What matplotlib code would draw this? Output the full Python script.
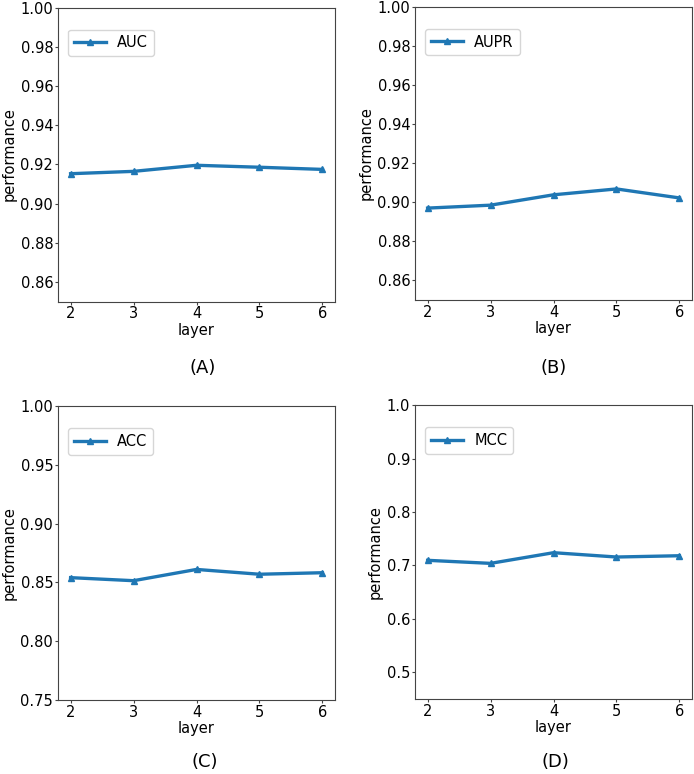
import matplotlib
matplotlib.use("Agg")
import matplotlib.pyplot as plt

layers = [2, 3, 4, 5, 6]
auc = [0.9152, 0.9164, 0.9195, 0.9185, 0.9174]
aupr = [0.8970, 0.8985, 0.9038, 0.9068, 0.9022]
acc = [0.8540, 0.8514, 0.8610, 0.8569, 0.8582]
mcc = [0.7094, 0.7037, 0.7237, 0.7156, 0.7180]

panels = [
    ("AUC", auc, (0.85, 1.00), [0.86, 0.88, 0.90, 0.92, 0.94, 0.96, 0.98, 1.00], "%.2f", "(A)"),
    ("AUPR", aupr, (0.85, 1.00), [0.86, 0.88, 0.90, 0.92, 0.94, 0.96, 0.98, 1.00], "%.2f", "(B)"),
    ("ACC", acc, (0.75, 1.00), [0.75, 0.80, 0.85, 0.90, 0.95, 1.00], "%.2f", "(C)"),
    ("MCC", mcc, (0.45, 1.00), [0.5, 0.6, 0.7, 0.8, 0.9, 1.0], "%.1f", "(D)"),
]

# axes rectangles in pixels: left, top, right, bottom
boxes = [(58, 7.5, 335, 301.5), (415, 6.7, 692, 300),
         (58, 406.3, 335, 699.7), (415, 405.3, 692, 698.7)]
label_pos = [(203, 368), (553.5, 368), (205, 762), (555, 762)]

W, H = 694, 774
fig = plt.figure(figsize=(W / 100, H / 100), dpi=100)

for (name, vals, ylim, yt, fmt, tag), (l, t, r, b), (lx, ly) in zip(panels, boxes, label_pos):
    ax = fig.add_axes([l / W, 1 - b / H, (r - l) / W, (b - t) / H])
    ax.plot(layers, vals, color="#1f77b4", lw=2.4, marker="^", ms=5, label=name)
    ax.set_ylim(*ylim)
    ax.set_yticks(yt)
    ax.set_yticklabels([fmt % v for v in yt])
    ax.set_xticks(layers)
    ax.tick_params(labelsize=10.5, length=2, pad=1.5, color="#444444")
    ax.set_xlabel("layer", fontsize=10.5, labelpad=1)
    ax.set_ylabel("performance", fontsize=10.5, labelpad=3)
    for s in ax.spines.values():
        s.set_color("#444444")
    ax.legend(loc="upper left", bbox_to_anchor=(0.035, 0.925), borderaxespad=0,
              fontsize=10.5, handlelength=2.2)
    fig.text(lx / W, 1 - ly / H, tag, ha="center", va="center", fontsize=13)

fig.savefig("out.png", dpi=100)
